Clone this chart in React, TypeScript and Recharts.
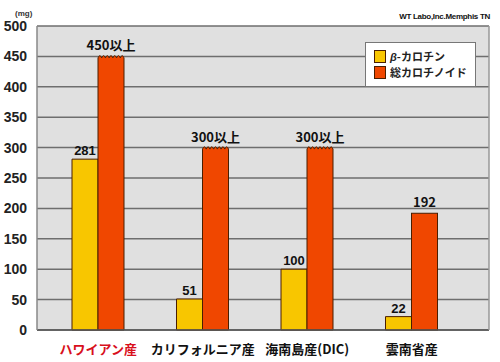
import React from "react";
import { BarChart, Bar, XAxis, YAxis, CartesianGrid, LabelList } from "recharts";

const categories = ["ハワイアン産", "カリフォルニア産", "海南島産(DIC)", "雲南省産"];
const betaCarotene = [281, 51, 100, 22];
const totalCarotenoid = [450, 300, 300, 192];
const totalOpenEnded = [true, true, true, false];
const yTicks = [0, 50, 100, 150, 200, 250, 300, 350, 400, 450, 500];
const seriesNames = ["β-カロチン", "総カロチノイド"];

const YELLOW = "#f8c600";
const RED = "#f04700";
const EDGE = "#4a1e00";
const JP = "'Noto Sans CJK JP', 'Noto Sans', sans-serif";
const NUM = "'Liberation Sans', Arial, sans-serif";

const data = categories.map((c, i) => ({
  name: c,
  beta: betaCarotene[i],
  total: totalCarotenoid[i],
  totalLabel: totalOpenEnded[i] ? `${totalCarotenoid[i]}以上` : `${totalCarotenoid[i]}`,
  open: totalOpenEnded[i],
}));

const WavyBar = (props: any) => {
  const { x, y, width, height, fill, payload } = props;
  if (!payload || !payload.open) {
    return <rect x={x} y={y} width={width} height={height} fill={fill} stroke={EDGE} strokeWidth={1} />;
  }
  const n = 7;
  const step = width / n;
  let d = `M${x},${y + height} L${x},${y + 1.5}`;
  for (let i = 0; i < n; i++) {
    const x0 = x + i * step;
    d += ` Q${x0 + step / 2},${y - 3} ${x0 + step},${y + 1.5}`;
  }
  d += ` L${x + width},${y + height} Z`;
  return <path d={d} fill={fill} stroke={EDGE} strokeWidth={1} />;
};

const XTick = (props: any) => {
  const { x, y, payload, index } = props;
  return (
    <text
      x={x}
      y={y + 16}
      textAnchor="middle"
      fontFamily={JP}
      fontWeight={700}
      fontSize={13}
      fill={index === 0 ? "#d8101c" : "#111"}
    >
      {payload.value}
    </text>
  );
};

const LegendBox = () => (
  <div
    style={{
      position: "absolute",
      left: 365,
      top: 42,
      width: 111,
      height: 45,
      background: "#fff",
      border: "1px solid #777",
      boxSizing: "border-box",
      padding: "5px 0 0 8px",
      fontFamily: JP,
      fontWeight: 700,
      fontSize: 11,
      color: "#222",
      lineHeight: "16px",
      zIndex: 2,
    }}
  >
    {seriesNames.map((s, i) => (
      <div key={s} style={{ display: "flex", alignItems: "center", height: 16 }}>
        <span
          style={{
            display: "inline-block",
            width: 10,
            height: 11,
            background: i === 0 ? YELLOW : RED,
            border: `1px solid ${EDGE}`,
            marginRight: 4,
          }}
        />
        {i === 0 ? (
          <span>
            <i style={{ fontFamily: NUM }}>β</i>-カロチン
          </span>
        ) : (
          <span>{s}</span>
        )}
      </div>
    ))}
  </div>
);

export default function App() {
  return (
    <div style={{ position: "absolute", left: 0, top: 0, width: 500, height: 362, background: "#fff" }}>
      <div
        style={{
          position: "absolute",
          left: 15,
          top: 9,
          fontFamily: NUM,
          fontSize: 8,
          color: "#333",
          fontWeight: 700,
        }}
      >
        (mg)
      </div>
      <div
        style={{
          position: "absolute",
          right: 10,
          top: 12,
          fontFamily: NUM,
          fontSize: 8,
          color: "#111",
          fontWeight: 700,
          letterSpacing: -0.3,
        }}
      >
        WT Labo,Inc.Memphis TN
      </div>
      <BarChart
        width={500}
        height={362}
        data={data}
        margin={{ top: 26, right: 10, left: 0, bottom: 2 }}
        barGap={0}
        barSize={26}
      >
        <CartesianGrid vertical={false} fill="#e0e0e0" stroke="#6e6e6e" strokeWidth={1.5} />
        <XAxis
          dataKey="name"
          height={30}
          padding={{ left: 9, right: 25 }}
          tickLine={false}
          axisLine={{ stroke: "#555", strokeWidth: 1.5 }}
          tick={<XTick />}
          interval={0}
        />
        <YAxis
          domain={[0, 500]}
          ticks={yTicks}
          width={37}
          tickLine={false}
          axisLine={{ stroke: "#888", strokeWidth: 1.5 }}
          tick={{ fontFamily: NUM, fontSize: 14, fontWeight: 700, fill: "#222" }}
          tickMargin={4}
        />
        <YAxis
          yAxisId="r"
          orientation="right"
          domain={[0, 500]}
          width={1}
          tick={false}
          tickLine={false}
          axisLine={{ stroke: "#999", strokeWidth: 1.5 }}
        />
        <Bar dataKey="beta" name={seriesNames[0]} fill={YELLOW} stroke={EDGE} strokeWidth={1} isAnimationActive={false}>
          <LabelList dataKey="beta" position="top" offset={4} fill="#111" fontFamily={NUM} fontWeight={700} fontSize={13} />
        </Bar>
        <Bar dataKey="total" name={seriesNames[1]} fill={RED} shape={<WavyBar />} isAnimationActive={false}>
          <LabelList dataKey="totalLabel" position="top" offset={6} fill="#111" fontFamily={JP} fontWeight={700} fontSize={13} />
        </Bar>
      </BarChart>
      <LegendBox />
    </div>
  );
}
